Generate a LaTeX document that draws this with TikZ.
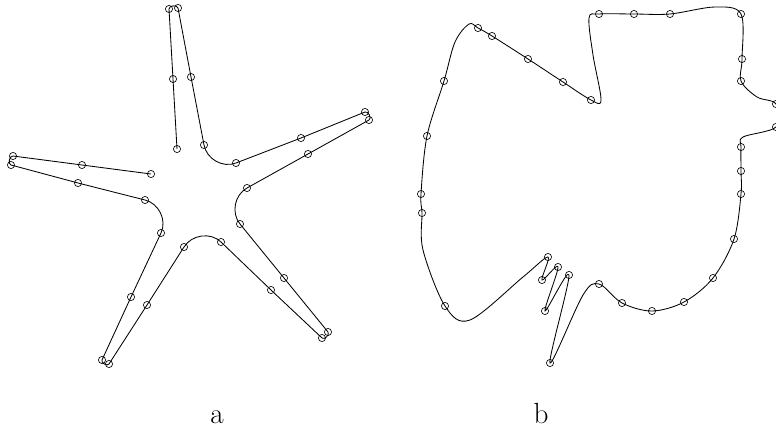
\documentclass[tikz,border=0pt]{standalone}
\usepackage{tikz}
\begin{document}
\begin{tikzpicture}[outline/.style={line width=0.6pt},knot/.style={line width=0.45pt}]
\useasboundingbox (0.000,0.000) rectangle (19.400,-10.975);
\draw[outline] (3.775,-4.350) -- (2.050,-4.125) -- (0.325,-3.900)
  to[out=173,in=165] (0.275,-4.125) -- (1.950,-4.575) -- (3.625,-5.000)
  to[out=-14,in=65] (4.025,-5.825) -- (3.275,-7.425) -- (2.550,-9.000)
  to[out=-115,in=-123] (2.725,-9.100) -- (3.675,-7.625) -- (4.600,-6.175)
  to[out=58,in=136] (5.525,-6.050) -- (6.775,-7.250) -- (8.050,-8.450)
  to[out=-43,in=-51] (8.200,-8.300) -- (7.100,-6.950) -- (6.000,-5.600)
  to[out=129,in=-151] (6.175,-4.700) -- (7.700,-3.850) -- (9.225,-3.000)
  to[out=29,in=22] (9.125,-2.800) -- (7.525,-3.450) -- (5.900,-4.075)
  to[out=-159,in=-79] (5.100,-3.625) -- (4.775,-1.925) -- (4.450,-0.200)
  to[out=101,in=93] (4.225,-0.225) -- (4.325,-1.975) -- (4.425,-3.725);
\draw[knot] (3.775,-4.350) circle (0.09);
\draw[knot] (2.050,-4.125) circle (0.09);
\draw[knot] (0.325,-3.900) circle (0.09);
\draw[knot] (0.275,-4.125) circle (0.09);
\draw[knot] (1.950,-4.575) circle (0.09);
\draw[knot] (3.625,-5.000) circle (0.09);
\draw[knot] (4.025,-5.825) circle (0.09);
\draw[knot] (3.275,-7.425) circle (0.09);
\draw[knot] (2.550,-9.000) circle (0.09);
\draw[knot] (2.725,-9.100) circle (0.09);
\draw[knot] (3.675,-7.625) circle (0.09);
\draw[knot] (4.600,-6.175) circle (0.09);
\draw[knot] (5.525,-6.050) circle (0.09);
\draw[knot] (6.775,-7.250) circle (0.09);
\draw[knot] (8.050,-8.450) circle (0.09);
\draw[knot] (8.200,-8.300) circle (0.09);
\draw[knot] (7.100,-6.950) circle (0.09);
\draw[knot] (6.000,-5.600) circle (0.09);
\draw[knot] (6.175,-4.700) circle (0.09);
\draw[knot] (7.700,-3.850) circle (0.09);
\draw[knot] (9.225,-3.000) circle (0.09);
\draw[knot] (9.125,-2.800) circle (0.09);
\draw[knot] (7.525,-3.450) circle (0.09);
\draw[knot] (5.900,-4.075) circle (0.09);
\draw[knot] (5.100,-3.625) circle (0.09);
\draw[knot] (4.775,-1.925) circle (0.09);
\draw[knot] (4.450,-0.200) circle (0.09);
\draw[knot] (4.225,-0.225) circle (0.09);
\draw[knot] (4.325,-1.975) circle (0.09);
\draw[knot] (4.425,-3.725) circle (0.09);
\draw[outline] plot[smooth cycle,tension=0.55] coordinates {
  (11.950,-0.700) (12.300,-0.900) (13.200,-1.475) (14.075,-2.050) (14.775,-2.500)
  (15.025,-2.500) (14.825,-1.375) (14.725,-0.450) (14.975,-0.350) (15.850,-0.350)
  (16.750,-0.350) (17.875,-0.175) (18.525,-0.350) (18.550,-1.475) (18.525,-2.025)
  (18.925,-2.425) (19.400,-2.600) (19.400,-3.175) (18.575,-3.425) (18.525,-3.675)
  (18.525,-4.275) (18.525,-4.850) (18.350,-5.975) (17.825,-6.950) (17.100,-7.550)
  (16.300,-7.775) (15.550,-7.575) (14.975,-7.100) (14.575,-7.375) (13.750,-9.075)
  (14.225,-6.875) (13.625,-7.775) (13.950,-6.675) (13.550,-7.000) (13.700,-6.425)
  (13.075,-6.925) (11.750,-8.000) (11.125,-7.650) (10.575,-6.250) (10.550,-5.325)
  (10.525,-4.850) (10.675,-3.400) (11.100,-2.025) (11.375,-1.050) (11.725,-0.600)};
\draw[knot] (11.950,-0.700) circle (0.09);
\draw[knot] (12.300,-0.900) circle (0.09);
\draw[knot] (13.200,-1.475) circle (0.09);
\draw[knot] (14.075,-2.050) circle (0.09);
\draw[knot] (14.775,-2.500) circle (0.09);
\draw[knot] (14.975,-0.350) circle (0.09);
\draw[knot] (15.850,-0.350) circle (0.09);
\draw[knot] (16.750,-0.350) circle (0.09);
\draw[knot] (18.525,-0.350) circle (0.09);
\draw[knot] (18.550,-1.475) circle (0.09);
\draw[knot] (18.525,-2.025) circle (0.09);
\draw[knot] (19.400,-2.600) circle (0.09);
\draw[knot] (19.400,-3.175) circle (0.09);
\draw[knot] (18.525,-3.675) circle (0.09);
\draw[knot] (18.525,-4.275) circle (0.09);
\draw[knot] (18.525,-4.850) circle (0.09);
\draw[knot] (18.350,-5.975) circle (0.09);
\draw[knot] (17.825,-6.950) circle (0.09);
\draw[knot] (17.100,-7.550) circle (0.09);
\draw[knot] (16.300,-7.775) circle (0.09);
\draw[knot] (15.550,-7.575) circle (0.09);
\draw[knot] (14.975,-7.100) circle (0.09);
\draw[knot] (13.750,-9.075) circle (0.09);
\draw[knot] (14.225,-6.875) circle (0.09);
\draw[knot] (13.625,-7.775) circle (0.09);
\draw[knot] (13.950,-6.675) circle (0.09);
\draw[knot] (13.550,-7.000) circle (0.09);
\draw[knot] (13.700,-6.425) circle (0.09);
\draw[knot] (11.125,-7.650) circle (0.09);
\draw[knot] (10.550,-5.325) circle (0.09);
\draw[knot] (10.525,-4.850) circle (0.09);
\draw[knot] (10.675,-3.400) circle (0.09);
\draw[knot] (11.100,-2.025) circle (0.09);
\node[font=\huge,anchor=base] (laba) at (5.425,-10.575) {a};
\node[font=\huge,anchor=base] (labb) at (13.525,-10.575) {b};
\end{tikzpicture}
\end{document}
